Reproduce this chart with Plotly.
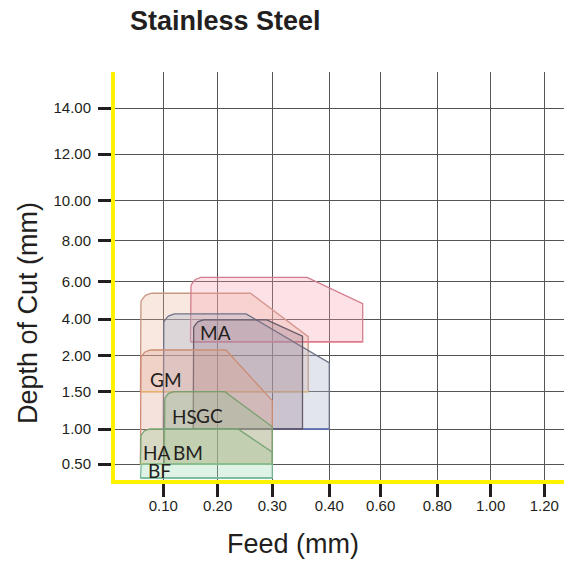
import numpy as np
import plotly.graph_objects as go

# ---------------- data ----------------
feed_ticks = [0.10, 0.20, 0.30, 0.40, 0.60, 0.80, 1.00, 1.20]
feed_labels = ["0.10", "0.20", "0.30", "0.40", "0.60", "0.80", "1.00", "1.20"]
doc_ticks = [0.50, 1.00, 1.50, 2.00, 4.00, 6.00, 8.00, 10.00, 12.00, 14.00]
doc_labels = ["0.50", "1.00", "1.50", "2.00", "4.00", "6.00", "8.00", "10.00", "12.00", "14.00"]

# chipbreaker application ranges (feed in mm, depth of cut in mm)
breakers   = ["GM",  "MA",  "HS",  "GC",  "",    "BM",  "HA",  "BF"]
feed_min   = [0.058, 0.150, 0.100, 0.155, 0.058, 0.102, 0.058, 0.058]
feed_max   = [0.363, 0.530, 0.400, 0.353, 0.300, 0.300, 0.300, 0.300]
doc_min    = [1.50,  2.76,  1.00,  1.00,  0.50,  0.50,  0.50,  0.30]
doc_max    = [5.37,  6.20,  4.27,  3.95,  2.31,  1.50,  1.00,  0.50]
chamf_feed = [0.260, 0.361, 0.252, 0.290, 0.215, 0.213, 0.237, 0.300]  # where the top edge starts to slope
chamf_doc  = [3.04,  4.81,  1.90,  3.07,  1.38,  1.03,  0.67,  0.50]   # where the slope meets the right edge

# ---------------- axis layout (uneven spacing of the printed scale) ----------------
feed_tick_pos = [50.3, 104.7, 159.3, 216.3, 267.7, 324.3, 377.7, 431.3]
doc_tick_pos = [17.7, 52.7, 90.0, 126.0, 162.7, 200.3, 241.0, 281.0, 327.7, 373.7]


def to_axis(v, ticks, pos):
    v = np.atleast_1d(np.asarray(v, float))
    out = np.interp(v, ticks, pos)
    s0 = (pos[1] - pos[0]) / (ticks[1] - ticks[0])
    s1 = (pos[-1] - pos[-2]) / (ticks[-1] - ticks[-2])
    lo, hi = v < ticks[0], v > ticks[-1]
    out[lo] = pos[0] + (v[lo] - ticks[0]) * s0
    out[hi] = pos[-1] + (v[hi] - ticks[-1]) * s1
    return out


def fx(v):
    return to_axis(v, feed_ticks, feed_tick_pos)


def fy(v):
    return to_axis(v, doc_ticks, doc_tick_pos)


# ---------------- styles ----------------
fills = ["rgba(232,178,152,0.30)", "rgba(245,160,172,0.30)", "rgba(172,181,201,0.35)",
         "rgba(150,118,140,0.30)", "rgba(225,158,140,0.30)", "rgba(150,190,140,0.35)",
         "rgba(160,200,150,0.35)", "rgba(161,218,184,0.35)"]
edges = ["rgb(200,150,130)", "rgb(210,125,140)", "rgb(110,115,135)", "rgb(100,90,105)",
         "rgb(205,140,115)", "rgb(120,160,110)", "rgb(120,165,115)", "rgb(120,185,150)"]
bottom_cols = ["rgb(232,185,95)", "rgb(225,120,140)", "rgb(95,115,195)", "rgb(90,90,120)",
               "rgb(205,140,115)", "rgb(120,160,110)", "rgb(225,215,95)", "rgb(120,185,150)"]
radii = [12, 12, 12, 11, 11, 10, 10, 3]
label_shift = [(9, 12), (8, 9), (8, 13), (2, 14), (0, 0), (8, 11.5), (2, 11.5), (7, 8)]

fig = go.Figure()

for i, name in enumerate(breakers):
    x0, x1 = fx(feed_min[i])[0], fx(feed_max[i])[0]
    y0, y1 = fy(doc_min[i])[0], fy(doc_max[i])[0]
    cx, cy = fx(chamf_feed[i])[0], fy(chamf_doc[i])[0]
    r = radii[i]
    xs = [x0, x0]
    ys = [y0, y1 - r]
    for a in np.linspace(np.pi, np.pi / 2, 12):
        xs.append(x0 + r + r * np.cos(a))
        ys.append(y1 - r + r * np.sin(a))
    xs += [cx, x1, x1, x0]
    ys += [y1, cy, y0, y0]
    fig.add_trace(go.Scatter(x=xs, y=ys, mode="lines", fill="toself",
                             fillcolor=fills[i], line=dict(color=edges[i], width=1.3),
                             hoverinfo="skip", showlegend=False))
    fig.add_trace(go.Scatter(x=[x0, x1], y=[y0, y0], mode="lines",
                             line=dict(color=bottom_cols[i], width=1.6),
                             hoverinfo="skip", showlegend=False))
    if name:
        fig.add_annotation(x=x0, y=y0, text=name, showarrow=False,
                           xanchor="left", yanchor="middle", borderpad=0,
                           xshift=label_shift[i][0], yshift=label_shift[i][1],
                           font=dict(family="Lato", size=19, color="#231F20"))

tickfont = dict(family="Liberation Sans", size=15, color="#231F20")
fig.update_xaxes(range=[2, 459], tickmode="array", tickvals=feed_tick_pos, ticktext=feed_labels,
                 showgrid=True, gridcolor="#555555", gridwidth=1, zeroline=False,
                 showline=True, linecolor="#FFF200", linewidth=4,
                 ticks="outside", ticklen=13, tickwidth=3, tickcolor="#231F20",
                 tickfont=tickfont, ticklabelstandoff=-4)
fig.update_yaxes(range=[1.7, 409.7], tickmode="array", tickvals=doc_tick_pos, ticktext=doc_labels,
                 showgrid=True, gridcolor="#555555", gridwidth=1, zeroline=False,
                 showline=True, linecolor="#FFF200", linewidth=4,
                 ticks="outside", ticklen=13, tickwidth=3, tickcolor="#231F20",
                 tickfont=tickfont, ticklabelstandoff=4)

title_font = dict(family="Liberation Sans", size=27, color="#231F20")
# axis titles (placed off-centre as in the printed chart)
fig.add_annotation(text="Feed (mm)", xref="paper", yref="paper",
                   x=(293 - 8 - 107) / 457, y=(472 - 536) / 408,
                   xanchor="center", yanchor="middle", showarrow=False, font=title_font)
fig.add_annotation(text="Depth of Cut (mm)", xref="paper", yref="paper",
                   x=(28 - 8 - 107) / 457, y=(472 - 305) / 408, textangle=-90,
                   xanchor="center", yanchor="middle", showarrow=False, font=title_font)

# the page places the figure 8px in from the top-left corner of the window
fig.update_layout(
    width=564, height=553,
    margin=dict(l=107, r=0, t=64, b=81),
    paper_bgcolor="white", plot_bgcolor="white",
    title=dict(text="<b>Stainless Steel</b>", x=122 / 564, xanchor="left", xref="container",
               y=1 - 13 / 553, yanchor="middle", yref="container",
               font=dict(family="Liberation Sans", size=27, color="#231F20")),
    showlegend=False,
)

fig.write_html("out.html")
